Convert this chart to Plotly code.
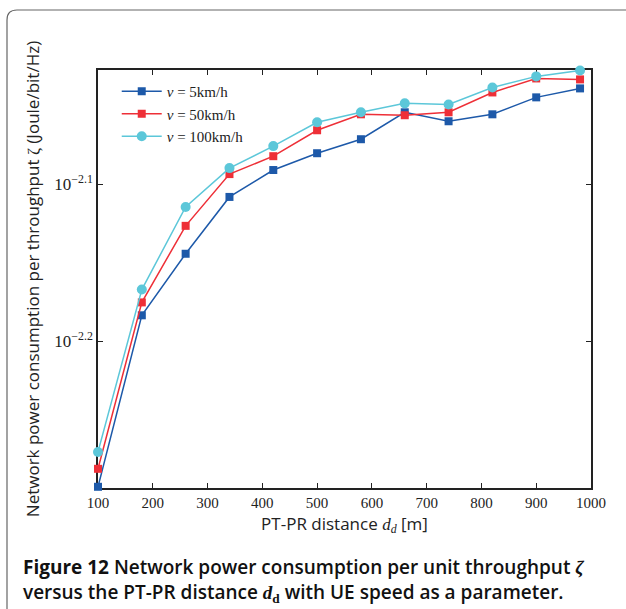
import plotly.graph_objects as go

# PT-PR distance (m)
distance = [100, 180, 260, 340, 420, 500, 580, 660, 740, 820, 900, 980]

# Network power consumption per throughput (Joule/bit/Hz)
zeta_v5 = [0.005100, 0.006555, 0.007173, 0.007795, 0.008108, 0.008310,
           0.008482, 0.008823, 0.008708, 0.008797, 0.009018, 0.009137]
zeta_v50 = [0.005236, 0.006680, 0.007472, 0.008060, 0.008274, 0.008594,
            0.008797, 0.008785, 0.008823, 0.009083, 0.009271, 0.009258]
zeta_v100 = [0.005367, 0.006807, 0.007681, 0.008131, 0.008397, 0.008695,
             0.008823, 0.008939, 0.008925, 0.009150, 0.009299, 0.009380]

series_names = ["<i>v</i> = 5km/h", "<i>v</i> = 50km/h", "<i>v</i> = 100km/h"]
x_ticks = [100, 200, 300, 400, 500, 600, 700, 800, 900, 1000]
y_ticks = [10 ** -2.2, 10 ** -2.1]
y_ticktext = ["10<sup>−2.2</sup>", "10<sup>−2.1</sup>"]

W, H = 626, 609
L, R, T, B = 98, 35, 70, 121

fig = go.Figure()
styles = [
    (zeta_v5, "#1d59a9", "square", 8),
    (zeta_v50, "#ee2f37", "square", 8),
    (zeta_v100, "#5cc7d9", "circle", 10),
]
for (vals, col, sym, sz), name in zip(styles, series_names):
    fig.add_trace(go.Scatter(
        x=distance, y=vals, name=name, mode="lines+markers",
        line=dict(color=col, width=1.5),
        marker=dict(color=col, symbol=sym, size=sz),
        cliponaxis=False,
    ))

serif = "Liberation Serif"
sans = "Open Sans"

fig.update_layout(
    width=W, height=H,
    margin=dict(l=L, r=R, t=T, b=B),
    paper_bgcolor="white", plot_bgcolor="white",
    showlegend=True,
    legend=dict(x=0.038, y=0.988, xanchor="left", yanchor="top",
                bgcolor="rgba(0,0,0,0)", borderwidth=0,
                font=dict(family=serif, size=15, color="#222"),
                tracegroupgap=0, itemwidth=40),
    xaxis=dict(range=[100, 1000], tickvals=x_ticks,
               ticks="inside", ticklen=5, tickwidth=1, tickcolor="#222",
               showline=True, linecolor="#222", linewidth=1.5, mirror="ticks",
               showgrid=False, zeroline=False, layer="below traces",
               tickfont=dict(family=serif, size=15, color="#222"),
               title=dict(text="PT-PR distance <span style='font-family:Liberation Serif'><i>d<sub>d</sub></i></span> [m]",
                          font=dict(family=sans, size=17, color="#222"), standoff=8)),
    yaxis=dict(type="log", range=[-2.2932, -2.0275], tickvals=y_ticks, ticktext=y_ticktext,
               ticks="inside", ticklen=5, tickwidth=1, tickcolor="#222",
               showline=True, linecolor="#222", linewidth=1.5, mirror="ticks",
               showgrid=False, zeroline=False, layer="below traces",
               tickfont=dict(family=serif, size=17, color="#222"),
               title=dict(text="Network power consumption per throughput <span style='font-family:Liberation Serif'>ζ</span> (Joule/bit/Hz)",
                          font=dict(family=sans, size=17, color="#222"), standoff=10)),
)

# Convert pixel positions of the page into paper coordinates
def px(x):
    return (x - L) / (W - L - R)

def py(y):
    return (H - B - y) / (H - T - B)

# Figure frame with a rounded top-left corner
frame = (f"M {px(7)},{py(612)} L {px(7)},{py(20)} "
         f"Q {px(7)},{py(10)} {px(17)},{py(10)} L {px(630)},{py(10)}")
fig.add_shape(type="path", path=frame, xref="paper", yref="paper",
              line=dict(color="#666", width=1.2), layer="below")

caption = (
    "<b>Figure 12</b> Network power consumption per unit throughput "
    "<span style='font-family:Liberation Serif'><i>ζ</i></span><br>"
    "versus the PT-PR distance <span style='font-family:Liberation Serif'><i>d</i><sub>d</sub></span>"
    " with UE speed as a parameter."
)
fig.add_annotation(text=caption, xref="paper", yref="paper",
                   x=px(21), y=py(580), xanchor="left", yanchor="middle",
                   showarrow=False, align="left",
                   font=dict(family=sans, size=19, color="#111", weight=600))

fig.write_html("out.html")
